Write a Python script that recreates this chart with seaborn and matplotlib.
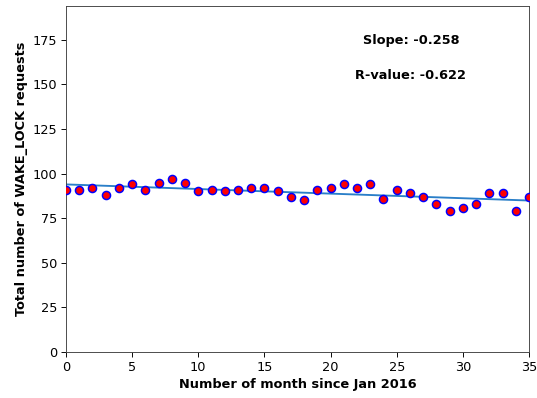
import numpy as np
import pandas as pd
import matplotlib
matplotlib.use("Agg")
import matplotlib.pyplot as plt
import seaborn as sns

# Monthly WAKE_LOCK request counts
months = list(range(36))
requests = [91, 91, 92, 88, 92, 94, 91, 95, 97, 95,
            90, 91, 90, 91, 92, 92, 90, 87, 85, 91,
            92, 94, 92, 94, 86, 91, 89, 87, 83, 79,
            81, 83, 89, 89, 79, 87]

# Linear regression summary
slope = -0.258
r_value = -0.622

x_ticks = [0, 5, 10, 15, 20, 25, 30, 35]
y_ticks = [0, 25, 50, 75, 100, 125, 150, 175]

df = pd.DataFrame({"month": months, "requests": requests})
intercept = df["requests"].mean() - slope * df["month"].mean()

sns.set_style("ticks")
plt.rcParams["font.family"] = ["DejaVu Sans"]
for key in ["text.color", "axes.labelcolor", "xtick.color", "ytick.color"]:
    plt.rcParams[key] = "black"

fig, ax = plt.subplots(figsize=(537 / 84, 398 / 84), dpi=84)

sns.scatterplot(data=df, x="month", y="requests", ax=ax, color="red",
                edgecolor="blue", linewidth=1.3, s=48, zorder=3)

fit_x = np.array([df["month"].min(), df["month"].max()])
ax.plot(fit_x, intercept + slope * fit_x, color="#2a7fc8", linewidth=1.6, zorder=2)

ax.set_xlim(0, 35)
ax.set_ylim(0, 2 * max(requests))
ax.set_xticks(x_ticks)
ax.set_yticks(y_ticks)
ax.set_xlabel("Number of month since Jan 2016", fontweight="bold", fontsize=11)
ax.set_ylabel("Total number of WAKE_LOCK requests", fontweight="bold", fontsize=11)
ax.tick_params(labelsize=11, length=4)

ax.text(0.745, 0.90, f"Slope: {slope:.3f}", transform=ax.transAxes,
        ha="center", va="center", fontweight="bold", fontsize=11)
ax.text(0.745, 0.80, f"R-value: {r_value:.3f}", transform=ax.transAxes,
        ha="center", va="center", fontweight="bold", fontsize=11)

for side in ["top", "right", "left", "bottom"]:
    ax.spines[side].set_visible(True)
    ax.spines[side].set_color("#444444")

fig.subplots_adjust(left=66 / 537, right=529 / 537, top=1 - 6 / 398, bottom=1 - 352 / 398)
fig.savefig("out.png", dpi=84, facecolor="white")
